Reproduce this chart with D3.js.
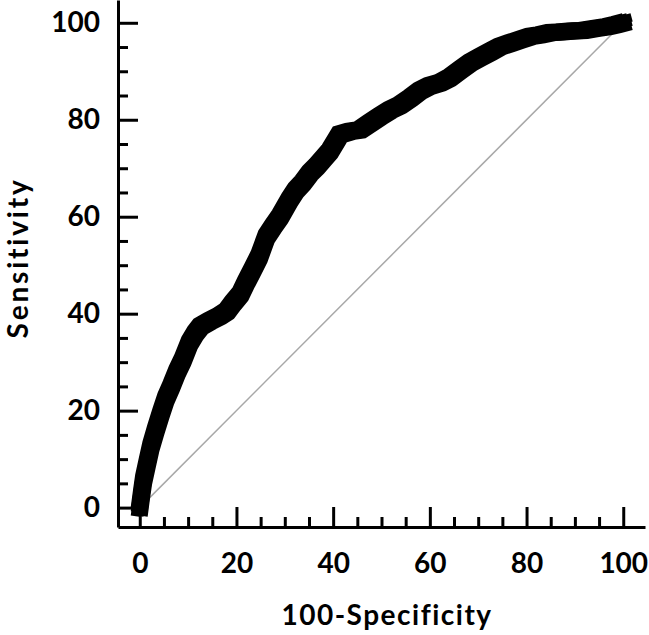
<!DOCTYPE html>
<html>
<head>
<meta charset="utf-8">
<script src="https://cdn.jsdelivr.net/npm/d3@7"></script>
<style>
  html, body { margin: 0; padding: 0; background: #fff; }
  svg { display: block; }
  text { font-family: Lato, "Open Sans", sans-serif; font-weight: 700; fill: #000; }
</style>
</head>
<body>
<svg id="chart" width="649" height="635"></svg>
<script>
// ---- Data ----
const fpr = [0, 0.4, 0.8, 1.5, 2.3, 3.3, 4.4, 5.4, 6.5, 7.7, 8.9, 10.3, 11.5, 12.6, 14.5, 16.5, 18, 19.3, 20.8, 21.9,
             23.3, 24.7, 26.2, 27.6, 29, 31, 32.3, 33.7, 35.2, 36.6, 38, 39.3, 41.4, 43.5, 45.5, 47.6, 49.7, 51.8, 53.8, 56,
             58, 60, 62.1, 64, 66.3, 68.4, 70.4, 72.5, 74.5, 76.6, 78.7, 80.8, 82.8, 85, 87, 89.3, 91.7, 94, 96.7, 98.5, 100];
const tpr = [0, 3, 5.8, 9, 12.6, 16, 19.5, 22.5, 25, 28, 30.5, 34, 36, 37.4, 38.5, 39.5, 40.5, 42.2, 44, 46.3,
             49, 51.8, 55.9, 58, 60, 63.5, 65.5, 67, 69, 70.4, 72, 73.5, 77, 77.6, 77.9, 79.3, 80.7, 82, 83, 84.5,
             86, 87, 87.6, 88.6, 90.3, 91.8, 92.9, 94, 95.1, 95.8, 96.5, 97.2, 97.5, 98, 98.1, 98.3, 98.4, 98.8, 99.2, 99.6, 100];
const majorTicks = [0, 20, 40, 60, 80, 100];
const minorTicks = [5, 10, 15, 25, 30, 35, 45, 50, 55, 65, 70, 75, 85, 90, 95];
const xTitle = "100-Specificity";
const yTitle = "Sensitivity";

// ---- Layout ----
const svg = d3.select("#chart");
const x = d3.scaleLinear().domain([-4.5, 104.5]).range([118, 645]);
const y = d3.scaleLinear().domain([-4, 104.7]).range([527, 0]);

// diagonal reference line
svg.append("line")
  .attr("x1", x(0)).attr("y1", y(0))
  .attr("x2", x(100)).attr("y2", y(100))
  .attr("stroke", "#a8a8a8").attr("stroke-width", 1.5);

// ROC curve drawn with a square "brush" (union of offset strokes)
const pts = fpr.map((v, i) => [v, tpr[i]]);
const line = d3.line().x(d => x(d[0])).y(d => y(d[1]));
const pathD = line(pts);
const offs = [-4.25, 0, 4.25];
const gCurve = svg.append("g");
offs.forEach(dx => offs.forEach(dy => {
  gCurve.append("path")
    .attr("d", pathD)
    .attr("transform", `translate(${dx},${dy})`)
    .attr("fill", "none")
    .attr("stroke", "#000")
    .attr("stroke-width", 8.5)
    .attr("stroke-linecap", "square")
    .attr("stroke-linejoin", "miter");
}));

// ---- Axes ----
function styleAxis(g) {
  g.selectAll("path.domain").attr("stroke", "#000").attr("stroke-width", 3);
  g.selectAll(".tick line").attr("stroke", "#000").attr("stroke-width", 3);
  g.selectAll(".tick text").style("font-size", "28px").style("font-family", "Lato, 'Open Sans', sans-serif").style("font-weight", 700);
}

// Y axis
const gy = svg.append("g").attr("transform", `translate(118,0)`);
gy.call(d3.axisLeft(y).tickValues(majorTicks).tickSize(-20).tickSizeOuter(0).tickPadding(18));
styleAxis(gy);
const gyMinor = svg.append("g").attr("transform", `translate(118,0)`);
gyMinor.call(d3.axisLeft(y).tickValues(minorTicks).tickSize(-10).tickSizeOuter(0).tickFormat(""));
styleAxis(gyMinor);
gyMinor.select("path.domain").remove();

// X axis
const gx = svg.append("g").attr("transform", `translate(0,527)`);
gx.call(d3.axisBottom(x).tickValues(majorTicks).tickSize(-20).tickSizeOuter(0).tickPadding(26));
styleAxis(gx);
const gxMinor = svg.append("g").attr("transform", `translate(0,527)`);
gxMinor.call(d3.axisBottom(x).tickValues(minorTicks).tickSize(-10).tickSizeOuter(0).tickFormat(""));
styleAxis(gxMinor);
gxMinor.select("path.domain").remove();

// Titles
svg.append("text")
  .attr("x", 387).attr("y", 625)
  .attr("text-anchor", "middle")
  .style("font-size", "28px")
  .style("letter-spacing", "1.5px")
  .text(xTitle);
svg.append("text")
  .attr("transform", "translate(28,258) rotate(-90)")
  .attr("text-anchor", "middle")
  .style("font-size", "28px")
  .style("letter-spacing", "2.8px")
  .text(yTitle);
</script>
</body>
</html>
